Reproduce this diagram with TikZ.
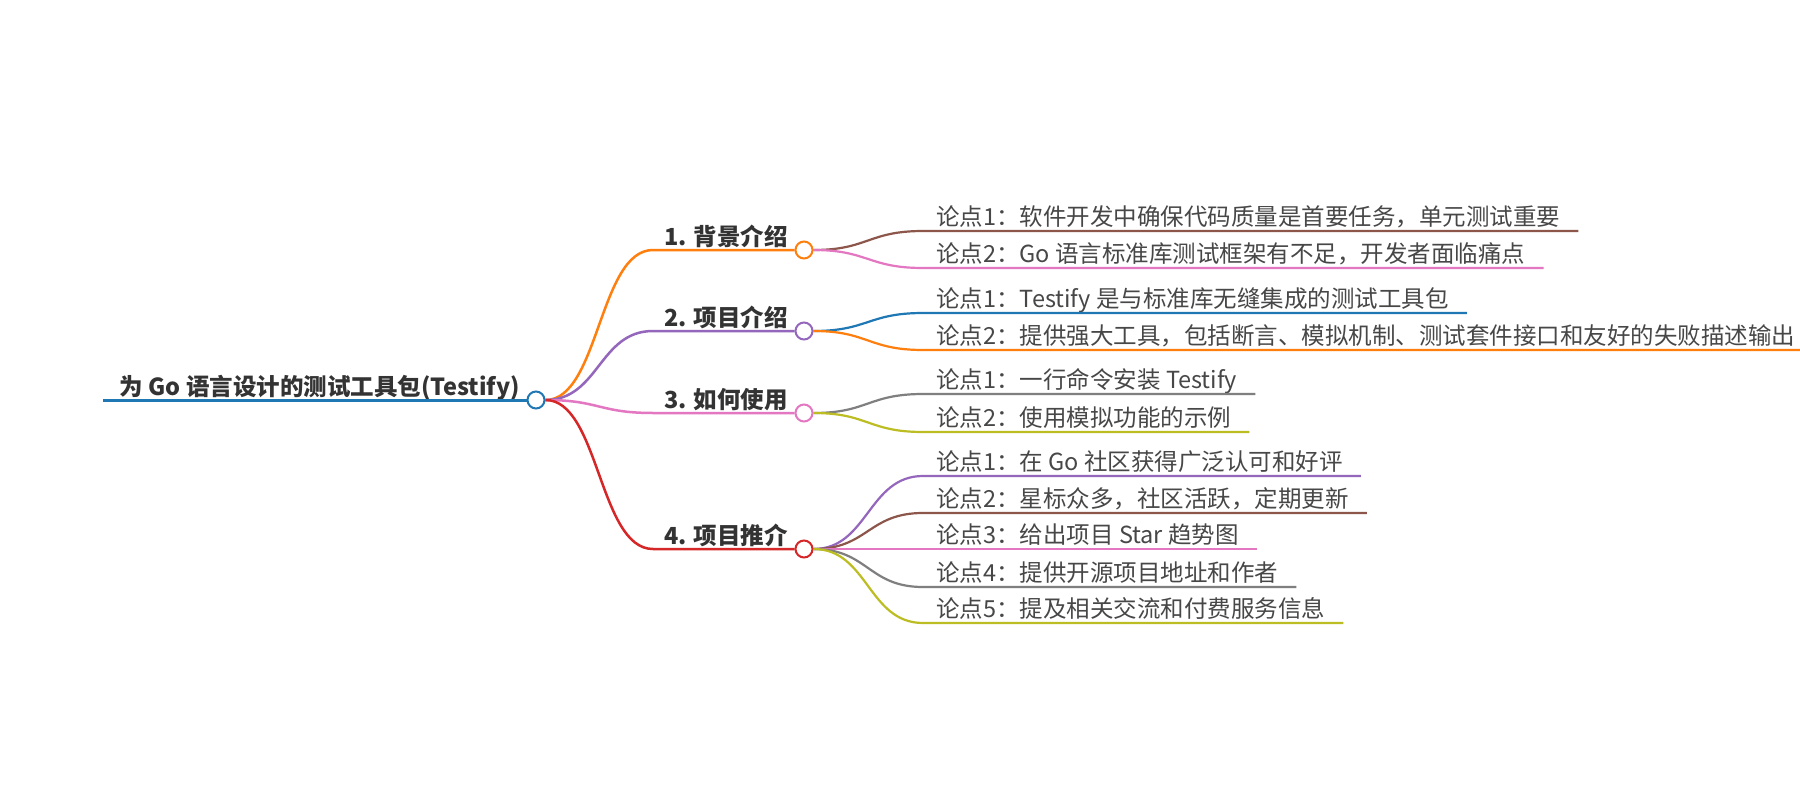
\documentclass[tikz,border=0pt]{standalone}
\usepackage{fontspec}
\setmainfont{Noto Sans CJK SC}
\definecolor{cblue}{HTML}{1F77B4}
\definecolor{corange}{HTML}{FF7F0E}
\definecolor{cred}{HTML}{D62728}
\definecolor{cpurple}{HTML}{9467BD}
\definecolor{cbrown}{HTML}{8C564B}
\definecolor{cpink}{HTML}{E377C2}
\definecolor{cgray}{HTML}{7F7F7F}
\definecolor{colive}{HTML}{BCBD22}
\definecolor{txt}{HTML}{333333}
\definecolor{ltxt}{HTML}{474747}
\begin{document}
\begin{tikzpicture}[x=1pt,y=-1pt,
  rootfont/.style={font=\fontsize{23.5}{28}\selectfont\bfseries, text=txt, inner sep=0pt},
  brfont/.style={font=\fontsize{23.5}{28}\selectfont\bfseries, text=txt, inner sep=0pt},
  leaffont/.style={font=\fontsize{23.5}{28}\selectfont, text=ltxt, inner sep=0pt},
  knob/.style={circle, draw=#1, fill=white, line width=2pt, minimum size=17pt, inner sep=0pt},
  rootline/.style={draw=#1, line width=3pt},
  brline/.style={draw=#1, line width=2.5pt},
  leafline/.style={draw=#1, line width=2.2pt},
]
\useasboundingbox (0,0) rectangle (1800,800);
\clip (0,0) rectangle (1800,800);
\fill[white] (0,0) rectangle (1800,800);

% root
\coordinate (r0) at (103,400);
\node[knob=cblue] (rc) at (536,400) {};
\node[rootfont, anchor=base east] (root) at (520,395) {为 Go 语言设计的测试工具包(Testify)};
\draw[rootline=cblue] (r0) -- (rc.west);

% branches
\node[knob=corange] (c1) at (804,250) {};
\node[knob=cpurple] (c2) at (804,331) {};
\node[knob=cpink] (c3) at (804,413) {};
\node[knob=cred] (c4) at (804,549) {};
\coordinate (b1s) at (653,250);
\coordinate (b2s) at (653,331);
\coordinate (b3s) at (653,413);
\coordinate (b4s) at (653,549);
\node[brfont, anchor=base east] (b1) at (788,245) {1. 背景介绍};
\node[brfont, anchor=base east] (b2) at (788,326) {2. 项目介绍};
\node[brfont, anchor=base east] (b3) at (788,408) {3. 如何使用};
\node[brfont, anchor=base east] (b4) at (788,544) {4. 项目推介};

\draw[brline=corange] (rc.east) .. controls (599,400) and (599,250) .. (b1s) -- (c1.west);
\draw[brline=cpurple] (rc.east) .. controls (599,400) and (599,331) .. (b2s) -- (c2.west);
\draw[brline=cpink] (rc.east) .. controls (599,400) and (599,413) .. (b3s) -- (c3.west);
\draw[brline=cred] (rc.east) .. controls (599,400) and (599,549) .. (b4s) -- (c4.west);

% leaves
\coordinate (l11s) at (923,231);
\coordinate (l12s) at (923,268);
\coordinate (l21s) at (923,313);
\coordinate (l22s) at (923,350);
\coordinate (l31s) at (923,394);
\coordinate (l32s) at (923,432);
\coordinate (l41s) at (923,476);
\coordinate (l42s) at (923,513);
\coordinate (l43s) at (923,549);
\coordinate (l44s) at (923,587);
\coordinate (l45s) at (923,623);

\node[leaffont, anchor=base west] (l11) at (936,225) {论点1：软件开发中确保代码质量是首要任务，单元测试重要};
\node[leaffont, anchor=base west] (l12) at (936,262) {论点2：Go 语言标准库测试框架有不足，开发者面临痛点};
\node[leaffont, anchor=base west] (l21) at (936,307) {论点1：Testify 是与标准库无缝集成的测试工具包};
\node[leaffont, anchor=base west] (l22) at (936,344) {论点2：提供强大工具，包括断言、模拟机制、测试套件接口和友好的失败描述输出};
\node[leaffont, anchor=base west] (l31) at (936,388) {论点1：一行命令安装 Testify};
\node[leaffont, anchor=base west] (l32) at (936,426) {论点2：使用模拟功能的示例};
\node[leaffont, anchor=base west] (l41) at (936,470) {论点1：在 Go 社区获得广泛认可和好评};
\node[leaffont, anchor=base west] (l42) at (936,507) {论点2：星标众多，社区活跃，定期更新};
\node[leaffont, anchor=base west] (l43) at (936,543) {论点3：给出项目 Star 趋势图};
\node[leaffont, anchor=base west] (l44) at (936,581) {论点4：提供开源项目地址和作者};
\node[leaffont, anchor=base west] (l45) at (936,617) {论点5：提及相关交流和付费服务信息};

\draw[leafline=cbrown]  (c1.east) .. controls (868,250) and (868,231) .. (l11s) -- ([xshift=18]l11.east |- l11s);
\draw[leafline=cpink]   (c1.east) .. controls (868,250) and (868,268) .. (l12s) -- ([xshift=18]l12.east |- l12s);
\draw[leafline=cblue]   (c2.east) .. controls (868,331) and (868,313) .. (l21s) -- ([xshift=18]l21.east |- l21s);
\draw[leafline=corange] (c2.east) .. controls (868,331) and (868,350) .. (l22s) -- ([xshift=18]l22.east |- l22s);
\draw[leafline=cgray]   (c3.east) .. controls (868,413) and (868,394) .. (l31s) -- ([xshift=18]l31.east |- l31s);
\draw[leafline=colive]  (c3.east) .. controls (868,413) and (868,432) .. (l32s) -- ([xshift=18]l32.east |- l32s);
\draw[leafline=cpurple] (c4.east) .. controls (868,549) and (868,476) .. (l41s) -- ([xshift=18]l41.east |- l41s);
\draw[leafline=cbrown]  (c4.east) .. controls (868,549) and (868,513) .. (l42s) -- ([xshift=18]l42.east |- l42s);
\draw[leafline=cpink]   (c4.east) .. controls (868,549) and (868,549) .. (l43s) -- ([xshift=18]l43.east |- l43s);
\draw[leafline=cgray]   (c4.east) .. controls (868,549) and (868,587) .. (l44s) -- ([xshift=18]l44.east |- l44s);
\draw[leafline=colive]  (c4.east) .. controls (868,549) and (868,623) .. (l45s) -- ([xshift=18]l45.east |- l45s);
\end{tikzpicture}
\end{document}
